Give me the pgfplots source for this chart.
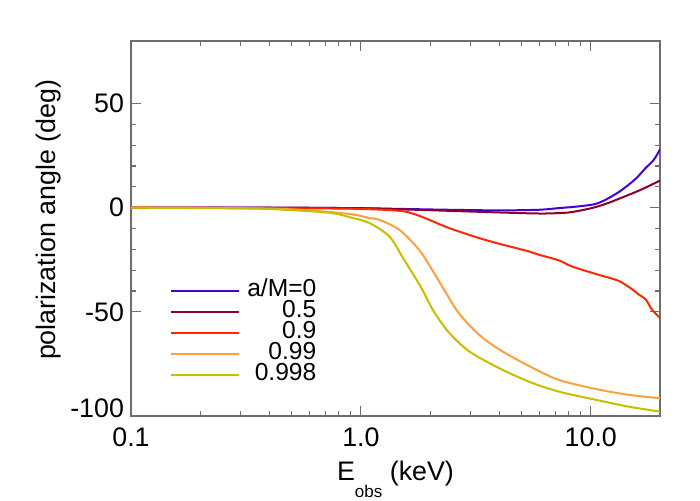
\documentclass[border=0pt]{standalone}
\usepackage{fontspec}
\setmainfont{Liberation Sans}
\usepackage{pgfplots}
\pgfplotsset{compat=1.18}

\definecolor{cA}{RGB}{70,0,215}
\definecolor{cB}{RGB}{140,0,40}
\definecolor{cC}{RGB}{255,40,0}
\definecolor{cD}{RGB}{255,160,60}
\definecolor{cE}{RGB}{200,190,0}
\definecolor{frame}{RGB}{110,110,110}
\newcommand\fs{\fontsize{13.4}{16}\selectfont}

\begin{document}
\begin{tikzpicture}
\path[use as bounding box] (-65.5pt,-42pt) rectangle (284.5pt,208pt);
\begin{axis}[
    scale only axis,
    width=264.5pt, height=187.5pt,
    xmode=log,
    xmin=0.1, xmax=20,
    ymin=-100, ymax=80,
    xtick={0.1,1,10}, xticklabels={0.1,1.0,10.0},
    ytick={-50,0,50}, yticklabels={-50,0,50},
    extra y ticks={-100}, extra y tick labels={-100},
    extra y tick style={yticklabel style={yshift=4pt}},
    minor y tick num=4,
    major tick length=4.8pt, minor tick length=2.4pt,
    axis line style={frame, line width=0.75pt},
    every tick/.style={frame, line width=0.6pt},
    ticklabel style={font=\fs},
    xticklabel style={yshift=-2.5pt},
    label style={font=\fs},
    xlabel={E\raisebox{-8.5pt}{\fontsize{8.5}{10}\selectfont obs} (keV)},
    ylabel={polarization angle (deg)},
    ylabel style={at={(axis description cs:-0.155,0.523)}, anchor=center},
    legend cell align=right,
    legend image code/.code={\draw[#1] (0pt,0pt) -- (34pt,0pt);},
    legend style={draw=none, fill=none, inner sep=0pt,
        font=\fontsize{12.3}{13}\selectfont,
        at={(axis description cs:0.0735,0.363)}, anchor=north west,
        row sep=0pt, column sep=3.5pt,
        nodes={inner xsep=0pt, inner ysep=0pt, text height=8.3pt, text depth=2.2pt}},
    every axis plot/.append style={line width=1pt, smooth, tension=0.5},
]
% a/M = 0
\addplot[cA] coordinates {
    (0.1,0) (0.3,0) (0.9,-0.2) (1.5,-0.6) (2.4,-1.0) (4.0,-1.3) (5.95,-1.0)
    (7.27,-0.2) (8.27,0.3) (9.5,1.0) (10.5,1.8) (11.6,3.8) (13.2,7.4)
    (14.6,11) (15.9,14.5) (17.3,19) (18.8,23) (20,28)
};
% 0.5
\addplot[cB] coordinates {
    (0.1,0) (0.5,0) (1.0,-0.3) (1.5,-0.8) (2.4,-1.5) (4.0,-2.3) (5.95,-2.8)
    (7.27,-2.6) (8.27,-2.1) (10.1,-0.2) (11.6,1.8) (13.2,4.2) (16.2,8.2) (20,13)
};
% 0.9
\addplot[cC] coordinates {
    (0.1,0) (0.54,-0.3) (1.0,-0.6) (1.47,-1.5) (1.7,-3) (1.98,-5.8) (2.42,-9.8)
    (3.27,-14.6) (3.99,-17.3) (5.38,-21) (5.95,-22.6) (7.27,-25.3) (8.27,-28.2)
    (10.8,-32.2) (13.2,-35.1) (15.1,-39.1) (16.2,-41.8) (17.3,-43.9) (18.4,-48.7) (20,-53)
};
% 0.99
\addplot[cD] coordinates {
    (0.1,0) (0.33,-0.3) (0.54,-1.0) (0.89,-3) (1.09,-5) (1.2,-5.8) (1.47,-10.6)
    (1.79,-20.2) (2.04,-29.8) (2.3,-39.4) (2.68,-51) (3.27,-61) (3.99,-68)
    (5.38,-76) (7.27,-82.7) (10.8,-87.3) (14.6,-89.8) (20,-91.5)
};
% 0.998
\addplot[cE] coordinates {
    (0.1,0) (0.33,-0.4) (0.54,-1.4) (0.74,-2.5) (0.89,-4.5) (1.09,-7.4)
    (1.33,-13.8) (1.51,-23.4) (1.71,-33) (1.85,-39.4) (2.08,-50) (2.42,-60)
    (2.96,-69) (3.99,-77) (5.38,-83.5) (7.27,-88.3) (10.8,-92.5) (14.6,-95.5) (20,-97.9)
};
\legend{a/M=0, 0.5, 0.9, 0.99, 0.998}
\end{axis}
\end{tikzpicture}
\end{document}
